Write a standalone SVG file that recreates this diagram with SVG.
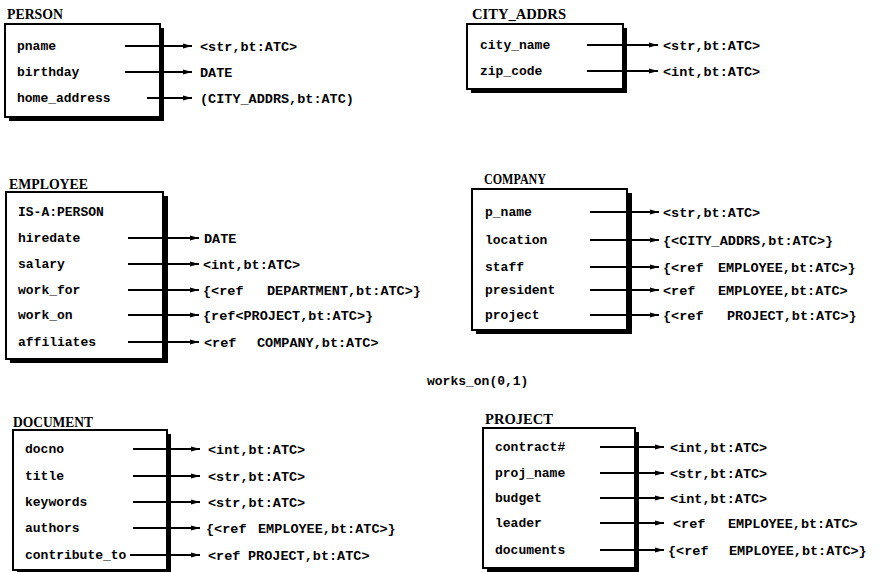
<svg xmlns="http://www.w3.org/2000/svg" width="880" height="572" viewBox="0 0 880 572">
<defs>
<marker id="ah" markerUnits="userSpaceOnUse" markerWidth="10" markerHeight="8" refX="9" refY="4" orient="auto">
<path d="M0,1.5 L9,4 L0,6.5 Z" fill="#000"/>
</marker>
<style>
.shadow{fill:#000}
.box{fill:#fff;stroke:#000;stroke-width:2}
.title{font-family:"Liberation Serif",serif;font-weight:bold;font-size:15px;fill:#000}
.lbl{font-family:"Liberation Mono","DejaVu Sans Mono",monospace;font-weight:bold;font-size:13px;fill:#000}
.typ{font-family:"Liberation Mono","DejaVu Sans Mono",monospace;font-weight:bold;font-size:13.5px;fill:#000}
.conn line{stroke:#000;stroke-width:2;marker-end:url(#ah)}
</style>
</defs>
<rect width="880" height="572" fill="#fff"/>

<g id="person">
<text class="title" x="7" y="19" textLength="56" lengthAdjust="spacingAndGlyphs">PERSON</text>
<rect class="shadow" x="9" y="28" width="155" height="93"/>
<rect class="box" x="5" y="24" width="155" height="93"/>
<text class="lbl" x="17" y="50">pname</text>
<text class="lbl" x="17" y="76">birthday</text>
<text class="lbl" x="17" y="102">home_address</text>
<text class="typ" x="200" y="51">&lt;str,bt:ATC&gt;</text>
<text class="typ" x="200" y="77">DATE</text>
<text class="typ" x="200" y="103">(CITY_ADDRS,bt:ATC)</text>
</g>

<g id="city_addrs">
<text class="title" x="472" y="19" textLength="94" lengthAdjust="spacingAndGlyphs">CITY_ADDRS</text>
<rect class="shadow" x="471" y="28" width="156" height="65"/>
<rect class="box" x="467" y="24" width="156" height="65"/>
<text class="lbl" x="480" y="49">city_name</text>
<text class="lbl" x="480" y="75">zip_code</text>
<text class="typ" x="663" y="50">&lt;str,bt:ATC&gt;</text>
<text class="typ" x="663" y="76">&lt;int,bt:ATC&gt;</text>
</g>

<g id="employee">
<text class="title" x="9" y="189" textLength="79" lengthAdjust="spacingAndGlyphs">EMPLOYEE</text>
<rect class="shadow" x="10" y="196" width="158" height="167"/>
<rect class="box" x="6" y="192" width="157" height="167"/>
<text class="lbl" x="18" y="216">IS-A:PERSON</text>
<text class="lbl" x="18" y="242">hiredate</text>
<text class="lbl" x="18" y="268">salary</text>
<text class="lbl" x="18" y="294">work_for</text>
<text class="lbl" x="18" y="319">work_on</text>
<text class="lbl" x="18" y="346">affiliates</text>
<text class="typ" x="204" y="243">DATE</text>
<text class="typ" x="203" y="269">&lt;int,bt:ATC&gt;</text>
<text class="typ" x="203" y="295">{&lt;ref<tspan x="267">DEPARTMENT,bt:ATC&gt;}</tspan></text>
<text class="typ" x="203" y="320">{ref&lt;PROJECT,bt:ATC&gt;}</text>
<text class="typ" x="204" y="347">&lt;ref<tspan x="257">COMPANY,bt:ATC&gt;</tspan></text>
</g>

<g id="company">
<text class="title" x="484" y="184" textLength="62" lengthAdjust="spacingAndGlyphs">COMPANY</text>
<rect class="shadow" x="476" y="193" width="156" height="141"/>
<rect class="box" x="472" y="189" width="155" height="141"/>
<text class="lbl" x="485" y="216">p_name</text>
<text class="lbl" x="485" y="244">location</text>
<text class="lbl" x="485" y="271">staff</text>
<text class="lbl" x="485" y="294">president</text>
<text class="lbl" x="485" y="319">project</text>
<text class="typ" x="663" y="217">&lt;str,bt:ATC&gt;</text>
<text class="typ" x="663" y="245">{&lt;CITY_ADDRS,bt:ATC&gt;}</text>
<text class="typ" x="663" y="272">{&lt;ref<tspan x="718">EMPLOYEE,bt:ATC&gt;}</tspan></text>
<text class="typ" x="663" y="295">&lt;ref<tspan x="718">EMPLOYEE,bt:ATC&gt;</tspan></text>
<text class="typ" x="663" y="320">{&lt;ref<tspan x="727">PROJECT,bt:ATC&gt;}</tspan></text>
</g>

<text class="lbl" x="427" y="385">works_on(0,1)</text>

<g id="document">
<text class="title" x="13" y="427" textLength="80" lengthAdjust="spacingAndGlyphs">DOCUMENT</text>
<rect class="shadow" x="17" y="434" width="154" height="141"/>
<rect class="box" x="13" y="430" width="154" height="140"/>
<text class="lbl" x="25" y="453">docno</text>
<text class="lbl" x="25" y="480">title</text>
<text class="lbl" x="25" y="506">keywords</text>
<text class="lbl" x="25" y="532">authors</text>
<text class="lbl" x="25" y="559">contribute_to</text>
<text class="typ" x="208" y="454">&lt;int,bt:ATC&gt;</text>
<text class="typ" x="208" y="481">&lt;str,bt:ATC&gt;</text>
<text class="typ" x="208" y="507">&lt;str,bt:ATC&gt;</text>
<text class="typ" x="206" y="533">{&lt;ref<tspan x="258">EMPLOYEE,bt:ATC&gt;}</tspan></text>
<text class="typ" x="208" y="560">&lt;ref<tspan x="248">PROJECT,bt:ATC&gt;</tspan></text>
</g>

<g id="project">
<text class="title" x="485" y="424" textLength="68" lengthAdjust="spacingAndGlyphs">PROJECT</text>
<rect class="shadow" x="487" y="432" width="152" height="140"/>
<rect class="box" x="483" y="428" width="152" height="140"/>
<text class="lbl" x="495" y="451">contract#</text>
<text class="lbl" x="495" y="477">proj_name</text>
<text class="lbl" x="495" y="502">budget</text>
<text class="lbl" x="495" y="527">leader</text>
<text class="lbl" x="495" y="554">documents</text>
<text class="typ" x="670" y="452">&lt;int,bt:ATC&gt;</text>
<text class="typ" x="670" y="478">&lt;str,bt:ATC&gt;</text>
<text class="typ" x="670" y="503">&lt;int,bt:ATC&gt;</text>
<text class="typ" x="673" y="528">&lt;ref<tspan x="728">EMPLOYEE,bt:ATC&gt;</tspan></text>
<text class="typ" x="668" y="555">{&lt;ref<tspan x="729">EMPLOYEE,bt:ATC&gt;}</tspan></text>
</g>

<g id="connectors" class="conn">
<line x1="125" y1="46" x2="192" y2="46"/>
<line x1="125" y1="72" x2="192" y2="72"/>
<line x1="147" y1="98" x2="192" y2="98"/>
<line x1="587" y1="45" x2="658" y2="45"/>
<line x1="587" y1="71" x2="658" y2="71"/>
<line x1="128" y1="238" x2="199" y2="238"/>
<line x1="128" y1="264" x2="199" y2="264"/>
<line x1="128" y1="290" x2="199" y2="290"/>
<line x1="128" y1="315" x2="199" y2="315"/>
<line x1="128" y1="342" x2="199" y2="342"/>
<line x1="590" y1="212" x2="659" y2="212"/>
<line x1="590" y1="240" x2="659" y2="240"/>
<line x1="590" y1="267" x2="659" y2="267"/>
<line x1="590" y1="290" x2="659" y2="290"/>
<line x1="590" y1="315" x2="659" y2="315"/>
<line x1="133" y1="449" x2="200" y2="449"/>
<line x1="133" y1="476" x2="200" y2="476"/>
<line x1="133" y1="502" x2="200" y2="502"/>
<line x1="133" y1="528" x2="200" y2="528"/>
<line x1="130" y1="555" x2="200" y2="555"/>
<line x1="600" y1="447" x2="664" y2="447"/>
<line x1="600" y1="473" x2="664" y2="473"/>
<line x1="600" y1="498" x2="664" y2="498"/>
<line x1="600" y1="523" x2="664" y2="523"/>
<line x1="600" y1="550" x2="664" y2="550"/>
</g>
</svg>
